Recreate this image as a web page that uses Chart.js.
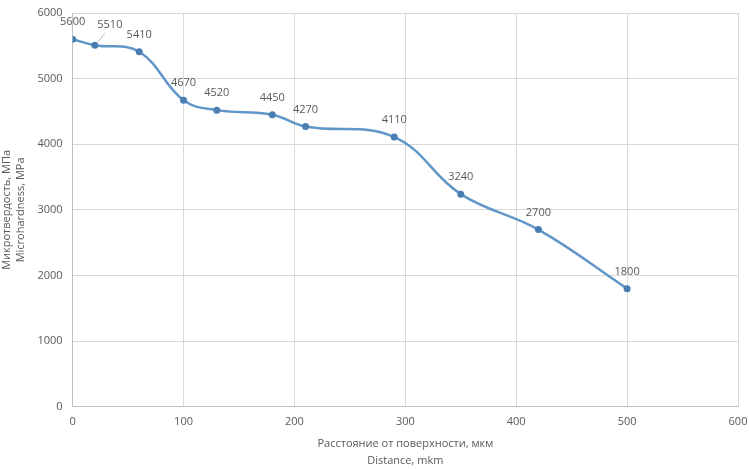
<!DOCTYPE html>
<html lang="ru">
<head>
  <meta charset="UTF-8">
  <title>Микротвердость</title>
  <script src="https://cdn.jsdelivr.net/npm/chart.js"></script>
  <style>
    html, body { margin: 0; padding: 0; background: #fff; }
    #wrap { width: 749px; height: 469px; }
  </style>
</head>
<body>
<div id="wrap"><canvas id="grafico" width="749" height="469"></canvas></div>
<script>
// данные
const distance = [0, 20, 60, 100, 130, 180, 210, 290, 350, 420, 500];
const hardness = [5600, 5510, 5410, 4670, 4520, 4450, 4270, 4110, 3240, 2700, 1800];
const xTicks = [0, 100, 200, 300, 400, 500, 600];
const yTicks = [0, 1000, 2000, 3000, 4000, 5000, 6000];

const textColor = '#595959';
const font = { family: 'Open Sans, Liberation Sans, sans-serif', size: 11 };

// подписи значений над точками
const labelsPlugin = {
  id: 'valueLabels',
  afterDatasetsDraw(chart) {
    const ctx = chart.ctx;
    const meta = chart.getDatasetMeta(0);
    ctx.save();
    ctx.font = '11px ' + font.family;
    ctx.fillStyle = textColor;
    ctx.textAlign = 'center';
    ctx.textBaseline = 'middle';
    meta.data.forEach((pt, i) => {
      let dx = 0, dy = -17;
      if (i === 1) {
        dx = 15; dy = -20;
        ctx.strokeStyle = '#bfbfbf';
        ctx.lineWidth = 1;
        ctx.beginPath();
        ctx.moveTo(pt.x + 3, pt.y - 3);
        ctx.lineTo(pt.x + 10, pt.y - 12);
        ctx.stroke();
      }
      ctx.fillText(String(hardness[i]), pt.x + dx, pt.y + dy);
    });
    ctx.restore();
  }
};

new Chart(document.getElementById('grafico'), {
  type: 'line',
  data: {
    datasets: [{
      data: distance.map((x, i) => ({ x: x, y: hardness[i] })),
      borderColor: '#6196c8',
      backgroundColor: '#4a7eb3',
      borderWidth: 2.5,
      pointRadius: 3.5,
      pointBorderWidth: 0,
      tension: 0.4,
      fill: false
    }]
  },
  options: {
    responsive: false,
    animation: false,
    layout: { padding: { top: 0, right: 0, left: 0, bottom: 0 } },
    plugins: { legend: { display: false }, tooltip: { enabled: false } },
    scales: {
      x: {
        type: 'linear',
        min: 0, max: 600,
        afterBuildTicks: axis => { axis.ticks = xTicks.map(v => ({ value: v })); },
        afterFit: axis => { axis.paddingRight = 11; },
        ticks: { color: textColor, font: font, padding: 8, callback: v => String(v) },
        grid: { color: '#d9d9d9', drawTicks: false },
        border: { color: '#bfbfbf' },
        title: {
          display: true,
          text: ['Расстояние от поверхности, мкм', 'Distance, mkm'],
          color: textColor, font: { ...font, lineHeight: 1.5 }, padding: { top: 0, bottom: 0 }
        }
      },
      y: {
        min: 0, max: 6000,
        afterBuildTicks: axis => { axis.ticks = yTicks.map(v => ({ value: v })); },
        afterFit: axis => { axis.paddingTop = 13; },
        ticks: { color: textColor, font: font, padding: 10, callback: v => String(v) },
        grid: { color: '#d9d9d9', drawTicks: false },
        border: { color: '#bfbfbf' },
        title: {
          display: true,
          text: ['Микротвердость, МПа', 'Microhardness, MPa'],
          color: textColor, font: { ...font, lineHeight: 1.25 }, padding: { top: 0, bottom: 0 }
        }
      }
    }
  },
  plugins: [labelsPlugin]
});
</script>
</body>
</html>
